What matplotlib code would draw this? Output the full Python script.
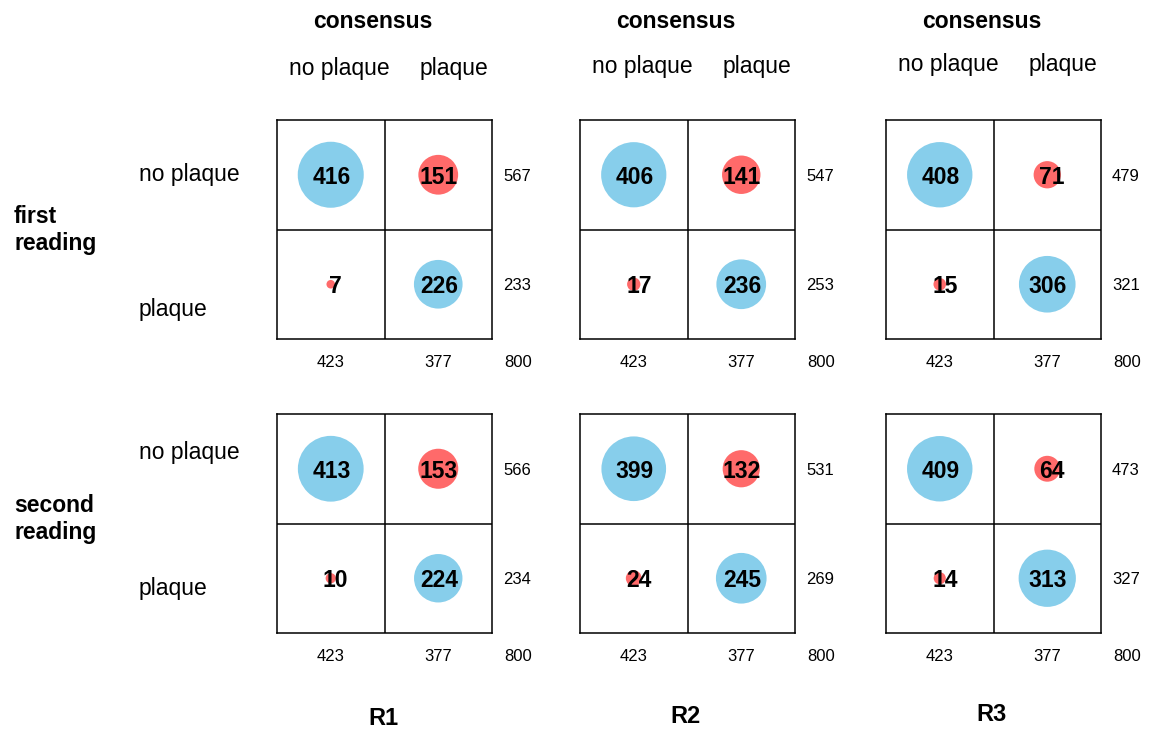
import matplotlib.pyplot as plt

plt.rcParams['font.family'] = ['Liberation Sans', 'DejaVu Sans']

readers = ['R1', 'R2', 'R3']
readings = ['first\nreading', 'second\nreading']
labels = ['no plaque', 'plaque']

# rows = reader's call, columns = consensus
first = [[[416, 151], [7, 226]],
         [[406, 141], [17, 236]],
         [[408, 71], [15, 306]]]
second = [[[413, 153], [10, 224]],
          [[399, 132], [24, 245]],
          [[409, 64], [14, 313]]]
tables = [first, second]

blue = '#87CEEB'
red = '#FF6A6A'

W, H = 1151, 733
fig = plt.figure(figsize=(W / 100, H / 100), dpi=100)


def fx(px):
    return px / W


def fy(py):
    return 1 - py / H


box_left = [277, 580, 886]
box_top = [120, 414]
bw, bh = 215, 219
head_y = [66, 64, 62]
foot_y = [716, 714, 712]
VA = 'center_baseline'

for c, name in enumerate(readers):
    L = box_left[c]
    fig.text(fx(L + 96), fy(19), 'consensus', ha='center', va=VA,
             fontsize=16.5, fontweight='bold')
    fig.text(fx(L + 62), fy(head_y[c]), labels[0], ha='center', va=VA, fontsize=16.5)
    fig.text(fx(L + 177), fy(head_y[c]), labels[1], ha='center', va=VA, fontsize=16.5)
    fig.text(fx(L + 106), fy(foot_y[c]), name, ha='center', va=VA,
             fontsize=17, fontweight='bold')

    for r in range(2):
        T = box_top[r]
        m = tables[r][c]
        ax = fig.add_axes([fx(L), fy(T + bh), bw / W, bh / H])
        ax.set_xlim(0, 2)
        ax.set_ylim(2, 0)
        ax.set_xticks([])
        ax.set_yticks([])
        for s in ax.spines.values():
            s.set_linewidth(1.1)
        ax.axvline(1, color='black', lw=1.1)
        ax.axhline(1, color='black', lw=1.1)
        for i in range(2):
            for j in range(2):
                n = m[i][j]
                col = blue if i == j else red
                ax.scatter(j + 0.5, i + 0.5, s=n * 5.43, color=col, edgecolors='none', zorder=2)
                dx = 3.6 if n < 100 else 0.5
                ax.annotate(str(n), (j + 0.5, i + 0.5), xytext=(dx, 0), textcoords='offset points',
                            ha='center', va=VA, fontsize=16.5, fontweight='bold', zorder=3)
            ax.annotate(str(sum(m[i])), (2, i + 0.5), xytext=(18, 0), textcoords='offset points',
                        ha='center', va=VA, fontsize=12, annotation_clip=False)
        for j in range(2):
            ax.annotate(str(m[0][j] + m[1][j]), (j + 0.5, 2), xytext=(0, -16),
                        textcoords='offset points', ha='center', va=VA,
                        fontsize=12, annotation_clip=False)
        total = sum(sum(row) for row in m)
        ax.annotate(str(total), (2, 2), xytext=(19, -16), textcoords='offset points',
                    ha='center', va=VA, fontsize=12, annotation_clip=False)

# row labels on the left
row_label_y = [[172, 307], [450, 586]]
group_y = [230, 519]
for r in range(2):
    fig.text(fx(139), fy(row_label_y[r][0]), labels[0], ha='left', va=VA, fontsize=16.5)
    fig.text(fx(139), fy(row_label_y[r][1]), labels[1], ha='left', va=VA, fontsize=16.5)
    fig.text(fx(14), fy(group_y[r]), readings[r], ha='left', va='center',
             fontsize=16.5, fontweight='bold', linespacing=1.25)

fig.savefig('out.png', dpi=100)
